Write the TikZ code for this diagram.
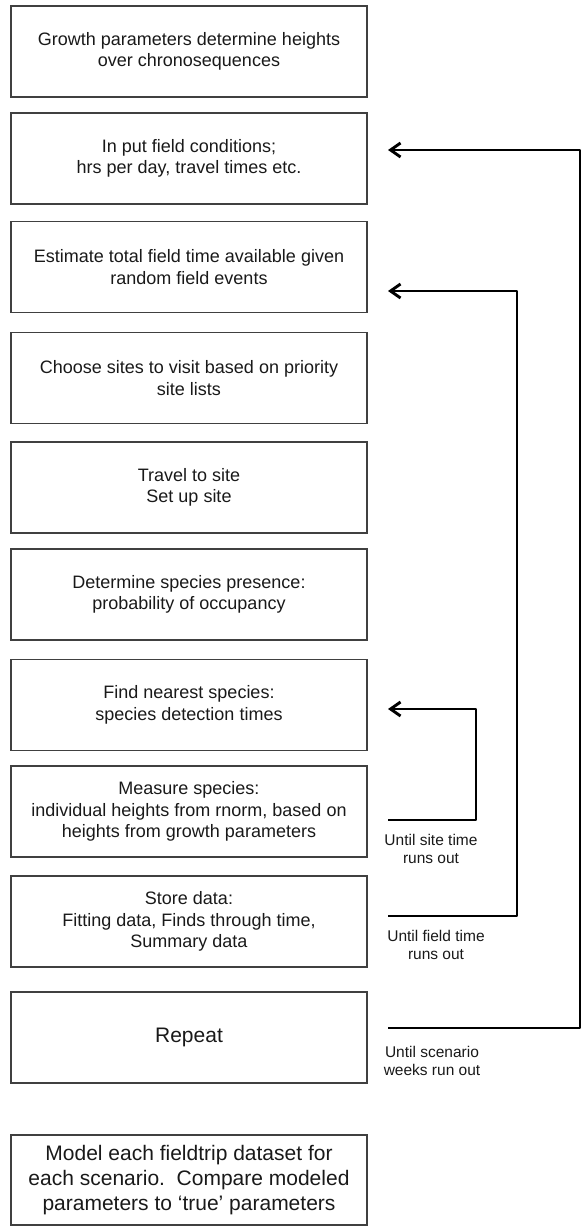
\documentclass[tikz,border=0pt]{standalone}
\usepackage{fontspec}
\setmainfont{Liberation Sans}
\usetikzlibrary{arrows.meta}
\begin{document}
\begin{tikzpicture}[x=1pt,y=-1pt,
  box/.style={draw=black!75, line width=1.3pt, minimum width=356pt, minimum height=91pt,
    inner sep=0pt, align=center, text=black!90, font=\fontsize{18}{21.6}\selectfont},
  bigbox/.style={box, font=\fontsize{21}{25.2}\selectfont},
  loopline/.style={line width=2.9pt, line join=round, -{Straight Barb[length=10pt,width=14pt]}},
  lbl/.style={align=center, inner sep=0pt, text=black!90, font=\fontsize{15.5}{18.6}\selectfont}]
\useasboundingbox (0,0) rectangle (584,1226);

\node[box] (b1) at (189,51.5) {Growth parameters determine heights\\over chronosequences};
\node[box] (b2) at (189,158.5) {In put field conditions;\\hrs per day, travel times etc.};
\node[box] (b3) at (189,267) {Estimate total field time available given\\random field events};
\node[box] (b4) at (189,378) {Choose sites to visit based on priority\\site lists};
\node[box] (b5) at (189,487.5) {Travel to site\\Set up site};
\node[box] (b6) at (189,594.5) {Determine species presence:\\probability of occupancy};
\node[box] (b7) at (189,705) {Find nearest species:\\species detection times};
\node[box] (b8) at (189,811.5) {Measure species:\\individual heights from rnorm, based on\\heights from growth parameters};
\node[box] (b9) at (189,921.5) {Store data:\\Fitting data, Finds through time,\\Summary data};
\node[bigbox] (b10) at (189,1037.5) {Repeat};
\node[bigbox, minimum height=90pt] (b11) at (189,1180) {Model each fieldtrip dataset for\\each scenario.\ \ Compare modeled\\parameters to `true' parameters};

% loop coordinates
\coordinate (s3) at (388,820);
\coordinate (t3) at (388,709);
\coordinate (s2) at (388,916);
\coordinate (t2) at (388,291);
\coordinate (s1) at (388,1028);
\coordinate (t1) at (388,150);

\draw[loopline] (s3) -- (476,820) -- (476,709) -- (t3);
\draw[loopline] (s2) -- (517,916) -- (517,291) -- (t2);
\draw[loopline] (s1) -- (580,1028) -- (580,150) -- (t1);

\node[lbl] (l3) at (431,849) {Until site time\\runs out};
\node[lbl] (l2) at (436,945) {Until field time\\runs out};
\node[lbl] (l1) at (432,1061) {Until scenario\\weeks run out};
\end{tikzpicture}
\end{document}
